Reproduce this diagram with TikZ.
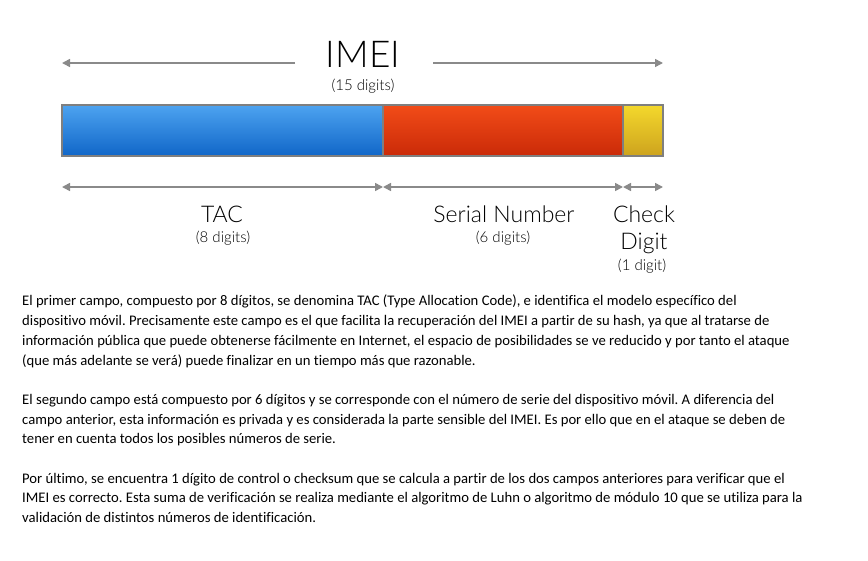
\documentclass[tikz,border=0pt]{standalone}
\usepackage{fontspec}
\setmainfont{TeX Gyre Heros}
\newfontfamily\labelfont{Lato Light}
\newfontfamily\bodyfont{Carlito}[Ligatures={NoCommon}]
\usepackage{xcolor}
\usetikzlibrary{arrows.meta, positioning, calc}
\frenchspacing

\definecolor{dimgray}{HTML}{8A8A8A}
\definecolor{edgegray}{HTML}{7F7F7F}
\definecolor{tactop}{HTML}{4DA3F0}
\definecolor{tacbot}{HTML}{1066C8}
\definecolor{sertop}{HTML}{F24C18}
\definecolor{serbot}{HTML}{CA2A08}
\definecolor{chktop}{HTML}{F4D82C}
\definecolor{chkbot}{HTML}{CDA31E}

\begin{document}
\begin{tikzpicture}[
  x=1pt, y=-1pt,
  segment/.style={draw=edgegray, line width=1.5pt, inner sep=0pt, outer sep=0pt,
    minimum height=51pt, anchor=north west},
  dimone/.style={draw=dimgray, line width=1.6pt, -{Triangle[length=8pt,width=8pt]}},
  dimtwo/.style={draw=dimgray, line width=1.6pt,
    {Triangle[length=8pt,width=8pt]}-{Triangle[length=8pt,width=8pt]}},
  biglabel/.style={font=\labelfont\fontsize{23}{27}\selectfont, anchor=base, inner sep=0pt},
  sublabel/.style={font=\labelfont\fontsize{15}{18}\selectfont, anchor=base, inner sep=0pt}
]
\useasboundingbox (0,0) rectangle (868,560);

% the bar
\node[segment, top color=tactop, bottom color=tacbot, minimum width=321pt] (tacbar) at (62,105) {};
\node[segment, top color=sertop, bottom color=serbot, minimum width=240pt] (serialbar) at (tacbar.north east) {};
\node[segment, top color=chktop, bottom color=chkbot, minimum width=40pt] (checkbar) at (serialbar.north east) {};

% title
\node[font=\labelfont\fontsize{37}{40}\selectfont, anchor=base, inner sep=0pt] (imei) at (363,67) {IMEI};
\node[sublabel] (imeisub) at (363,90) {(15 digits)};
\coordinate (imeiL) at (295,63);
\coordinate (imeiR) at (433,63);
\draw[dimone] (imeiL) -- (imeiL -| tacbar.west);
\draw[dimone] (imeiR) -- (imeiR -| checkbar.east);

% field arrows
\draw[dimtwo] ([yshift=-31pt]tacbar.south west) -- ([yshift=-31pt]tacbar.south east);
\draw[dimtwo] ([yshift=-31pt]serialbar.south west) -- ([yshift=-31pt]serialbar.south east);
\draw[dimtwo] ([yshift=-31pt]checkbar.south west) -- ([yshift=-31pt]checkbar.south east);

% field labels
\node[biglabel] (tac) at (222,222) {TAC};
\node[sublabel] (tacsub) at (223,242) {(8 digits)};
\node[biglabel] (serial) at (504,222) {Serial Number};
\node[sublabel] (serialsub) at (503,242) {(6 digits)};
\node[biglabel] (check) at (644,222) {Check};
\node[biglabel] (checkdig) at (644,249) {Digit};
\node[sublabel] (checksub) at (642,270) {(1 digit)};

% description
\node[font=\bodyfont\fontsize{14.67}{19.7}\selectfont, align=left, anchor=north west, inner sep=0pt] (body) at (22,295) {%
El primer campo, compuesto por 8 dígitos, se denomina TAC (Type Allocation Code), e identifica el modelo específico del\\
dispositivo móvil. Precisamente este campo es el que facilita la recuperación del IMEI a partir de su hash, ya que al tratarse de\\
información pública que puede obtenerse fácilmente en Internet, el espacio de posibilidades se ve reducido y por tanto el ataque\\
(que más adelante se verá) puede finalizar en un tiempo más que razonable.\\[19.7pt]
El segundo campo está compuesto por 6 dígitos y se corresponde con el número de serie del dispositivo móvil. A diferencia del\\
campo anterior, esta información es privada y es considerada la parte sensible del IMEI. Es por ello que en el ataque se deben de\\
tener en cuenta todos los posibles números de serie.\\[19.7pt]
Por último, se encuentra 1 dígito de control o checksum que se calcula a partir de los dos campos anteriores para verificar que el\\
IMEI es correcto. Esta suma de verificación se realiza mediante el algoritmo de Luhn o algoritmo de módulo 10 que se utiliza para la\\
validación de distintos números de identificación.};
\end{tikzpicture}
\end{document}
